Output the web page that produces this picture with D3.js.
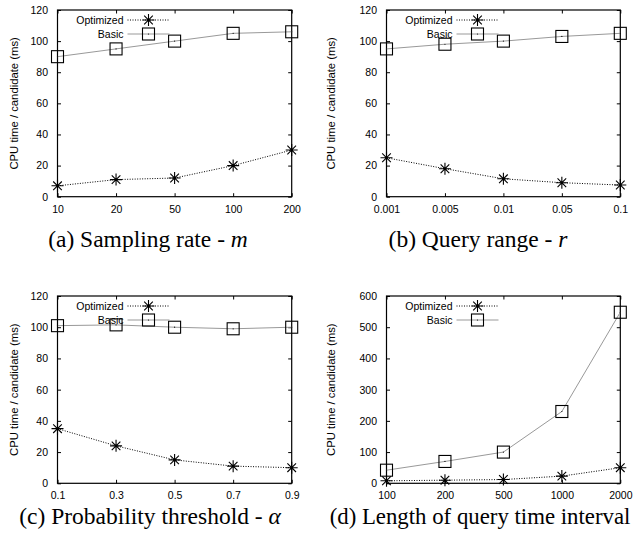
<!DOCTYPE html>
<html><head><meta charset="utf-8">
<script src="https://cdn.jsdelivr.net/npm/d3@7/dist/d3.min.js"></script>
<style>
body{margin:0;background:#fff;}
svg{display:block;}
</style></head>
<body>
<svg id="chart" width="634" height="540"></svg>
<script>
// ----- data -----
const seriesNames = ["Optimized", "Basic"];
const yTitle = "CPU time / candidate (ms)";

const catsA = ["10", "20", "50", "100", "200"];
const optA = [7, 11, 12, 20, 30];
const basicA = [90, 95, 100, 105, 106];
const yTicksA = [0, 20, 40, 60, 80, 100, 120];

const catsB = ["0.001", "0.005", "0.01", "0.05", "0.1"];
const optB = [25, 18, 11.5, 9, 7.5];
const basicB = [95, 98, 100, 103, 105];
const yTicksB = [0, 20, 40, 60, 80, 100, 120];

const catsC = ["0.1", "0.3", "0.5", "0.7", "0.9"];
const optC = [35, 24, 15, 11, 10];
const basicC = [101, 101.5, 100, 99, 100];
const yTicksC = [0, 20, 40, 60, 80, 100, 120];

const catsD = ["100", "200", "500", "1000", "2000"];
const optD = [8, 10, 12, 23, 50];
const basicD = [42, 70, 100, 230, 548];
const yTicksD = [0, 100, 200, 300, 400, 500, 600];

const captions = [
  {pre: "(a) Sampling rate - ", sym: "m"},
  {pre: "(b) Query range - ", sym: "r"},
  {pre: "(c) Probability threshold - ", sym: "α"},
  {pre: "(d) Length of query time interval", sym: ""}
];

const panels = [
  {cats: catsA, opt: optA, basic: basicA, ticks: yTicksA, x0: 57.5, x1: 291.7, y0: 10, y1: 196.7, cap: captions[0], capX: 148, capY: 247, capSize: 23.5, titleX: 14},
  {cats: catsB, opt: optB, basic: basicB, ticks: yTicksB, x0: 386.5, x1: 620.3, y0: 10, y1: 196.7, cap: captions[1], capX: 478, capY: 247, capSize: 23.5, titleX: 331},
  {cats: catsC, opt: optC, basic: basicC, ticks: yTicksC, x0: 57.5, x1: 291.7, y0: 296, y1: 483.3, cap: captions[2], capX: 150, capY: 524, capSize: 23.5, titleX: 14},
  {cats: catsD, opt: optD, basic: basicD, ticks: yTicksD, x0: 386.5, x1: 620.3, y0: 296, y1: 483.3, cap: captions[3], capX: 480, capY: 524, capSize: 22.8, titleX: 331}
];

const svg = d3.select("#chart");
const sans = "'Liberation Sans', Arial, sans-serif";
const serif = "'Liberation Serif', 'Times New Roman', serif";
const tickLen = 3.5;
const basicColor = "#999";

function star(g, x, y, r) {
  const d = r * 0.72;
  const p = `M${x-r},${y}L${x+r},${y}M${x},${y-r}L${x},${y+r}M${x-d},${y-d}L${x+d},${y+d}M${x-d},${y+d}L${x+d},${y-d}`;
  g.append("path").attr("d", p).attr("stroke", "#000").attr("stroke-width", 1.1).attr("fill", "none");
  g.append("circle").attr("cx", x).attr("cy", y).attr("r", 1).attr("fill", "#000");
}
function square(g, x, y, s) {
  g.append("rect").attr("x", x - s/2).attr("y", y - s/2).attr("width", s).attr("height", s)
    .attr("fill", "none").attr("stroke", "#000").attr("stroke-width", 1.1);
  g.append("circle").attr("cx", x).attr("cy", y).attr("r", 0.6).attr("fill", "#000");
}

panels.forEach(p => {
  const g = svg.append("g");
  const x = d3.scalePoint().domain(p.cats).range([p.x0, p.x1]);
  const ymax = p.ticks[p.ticks.length - 1];
  const y = d3.scaleLinear().domain([0, ymax]).range([p.y1, p.y0]);

  const yAxisL = d3.axisLeft(y).tickValues(p.ticks).tickSize(-tickLen).tickPadding(6 + tickLen);
  const yAxisR = d3.axisRight(y).tickValues(p.ticks).tickSize(-tickLen).tickFormat("");
  const xAxisB = d3.axisBottom(x).tickSize(-tickLen).tickPadding(5 + tickLen);
  const xAxisT = d3.axisTop(x).tickSize(-tickLen).tickFormat("");

  const axes = [
    g.append("g").attr("transform", `translate(${p.x0},0)`).call(yAxisL),
    g.append("g").attr("transform", `translate(${p.x1},0)`).call(yAxisR),
    g.append("g").attr("transform", `translate(0,${p.y1})`).call(xAxisB),
    g.append("g").attr("transform", `translate(0,${p.y0})`).call(xAxisT)
  ];
  axes.forEach(a => {
    a.select(".domain").remove();
    a.selectAll("line").attr("stroke", "#000").attr("stroke-width", 1);
    a.selectAll("text").attr("font-family", sans).attr("font-size", 10.5).attr("fill", "#000");
  });

  g.append("rect").attr("x", p.x0).attr("y", p.y0).attr("width", p.x1 - p.x0).attr("height", p.y1 - p.y0)
    .attr("fill", "none").attr("stroke", "#000").attr("stroke-width", 1.2);

  g.append("text").attr("transform", `translate(${p.titleX},${(p.y0 + p.y1)/2}) rotate(-90)`)
    .attr("text-anchor", "middle").attr("dominant-baseline", "central")
    .attr("font-family", sans).attr("font-size", 11.3).attr("fill", "#000").text(yTitle);

  const line = d3.line().x((d, i) => x(p.cats[i])).y(d => y(d));
  g.append("path").datum(p.basic).attr("d", line).attr("fill", "none").attr("stroke", basicColor).attr("stroke-width", 1);
  g.append("path").datum(p.opt).attr("d", line).attr("fill", "none").attr("stroke", "#000").attr("stroke-width", 1)
    .attr("stroke-dasharray", "1,1.5");

  p.basic.forEach((v, i) => square(g, x(p.cats[i]), y(v), 12));
  p.opt.forEach((v, i) => star(g, x(p.cats[i]), y(v), 6));

  const tx = p.x0 + 66;
  const ly1 = p.y0 + 10, ly2 = p.y0 + 24;
  g.append("text").attr("x", tx).attr("y", ly1).attr("text-anchor", "end").attr("dominant-baseline", "central")
    .attr("font-family", sans).attr("font-size", 10.5).text(seriesNames[0]);
  g.append("text").attr("x", tx).attr("y", ly2).attr("text-anchor", "end").attr("dominant-baseline", "central")
    .attr("font-family", sans).attr("font-size", 10.5).text(seriesNames[1]);
  g.append("line").attr("x1", tx + 4).attr("x2", tx + 46).attr("y1", ly1).attr("y2", ly1)
    .attr("stroke", "#000").attr("stroke-dasharray", "1,1.5");
  g.append("line").attr("x1", tx + 4).attr("x2", tx + 46).attr("y1", ly2).attr("y2", ly2)
    .attr("stroke", basicColor);
  star(g, tx + 25, ly1, 6);
  square(g, tx + 25, ly2, 12);

  const t = g.append("text").attr("x", p.capX).attr("y", p.capY).attr("text-anchor", "middle")
    .attr("font-family", serif).attr("font-size", p.capSize).attr("fill", "#000");
  t.append("tspan").text(p.cap.pre);
  if (p.cap.sym) t.append("tspan").attr("font-style", "italic").text(p.cap.sym);
});
</script>
</body></html>
